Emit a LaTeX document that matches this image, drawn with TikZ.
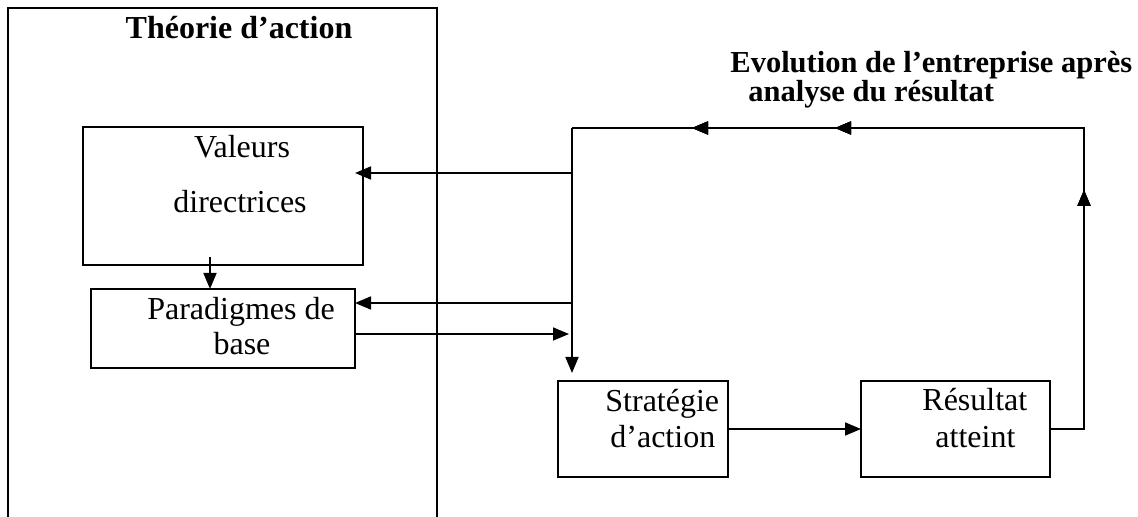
\documentclass[tikz,border=0pt]{standalone}
\usepackage{fontspec}
\setmainfont{Liberation Serif}
\usetikzlibrary{arrows.meta,calc,decorations.markings}

\begin{document}
\begin{tikzpicture}[x=0.5pt,y=-0.5pt,
  box/.style={draw,line width=1pt,rectangle,anchor=north west,inner sep=0pt,outer sep=0pt},
  link/.style={line width=0.85pt},
  arr/.style={link,-{Triangle[length=8pt,width=6.5pt]}},
  txt/.style={inner sep=0pt,font=\fontsize{16pt}{19pt}\selectfont},
  btxt/.style={txt,font=\fontsize{16pt}{19pt}\selectfont\bfseries},
  captxt/.style={txt,font=\fontsize{15.25pt}{18pt}\selectfont\bfseries},
  midtip/.style={postaction={decorate},decoration={markings,
    mark=at position #1 with {\arrow{Triangle[length=8pt,width=6.5pt]}}}}
]
\useasboundingbox (0,0) rectangle (1138,517);
\clip (0,0) rectangle (1138,517);

% frame of the theory of action (runs off the bottom edge)
\node[box,minimum width=214.5pt,minimum height=265pt] (theory) at (8,8) {};
\node[btxt,anchor=base] (ttheory) at (239,39) {Théorie d’action};

% inner boxes
\node[box,minimum width=140pt,minimum height=69pt] (val) at (83,127) {};
\node[txt,anchor=base] (tval1) at (242,158) {Valeurs};
\node[txt,anchor=base] (tval2) at (240,213) {directrices};

\node[box,minimum width=132pt,minimum height=39.5pt] (para) at (91,289) {};
\node[txt,anchor=base] (tpara1) at (241,320) {Paradigmes de};
\node[txt,anchor=base] (tpara2) at (242,355) {base};

\node[box,minimum width=85pt,minimum height=48pt] (strat) at (558,381) {};
\node[txt,anchor=base west] (tstrat1) at (605,411) {Stratégie};
\node[txt,anchor=base west] (tstrat2) at (610,447) {d’action};

\node[box,minimum width=94.5pt,minimum height=48pt] (res) at (861,381) {};
\node[txt,anchor=base west] (tres1) at (922,410) {Résultat};
\node[txt,anchor=base west] (tres2) at (935,447) {atteint};

% feedback caption
\node[captxt,anchor=base west] (tevo1) at (730,73) {Evolution de l’entreprise après};
\node[captxt,anchor=base west] (tevo2) at (748,102) {analyse du résultat};

% corners of the feedback loop
\coordinate (hubtop) at (572,128);
\coordinate (retop) at (1084,128);

% connectors
\draw[arr] ([xshift=-6.5pt,yshift=4pt]val.south) -- ([xshift=-6.5pt]para.north);
\draw[arr] (strat.east) -- (res.west);

\draw[link,midtip=136.5pt,midtip=292pt,midtip=363.5pt]
  (res.east) -- (res.east -| retop) -- (retop) -- (hubtop);
\draw[arr] (hubtop) -- ($(strat.north -| hubtop)+(0,4pt)$);

\draw[arr] ([yshift=11.5pt]val.east -| hubtop) -- ([xshift=-4pt,yshift=11.5pt]val.east);
\draw[arr] ([yshift=12.75pt]para.east -| hubtop) -- ([yshift=12.75pt]para.east);
\draw[arr] ([yshift=-2.75pt]para.east) -- ($([yshift=-2.75pt]para.east -| hubtop)+(-1.5pt,0)$);
\end{tikzpicture}
\end{document}
